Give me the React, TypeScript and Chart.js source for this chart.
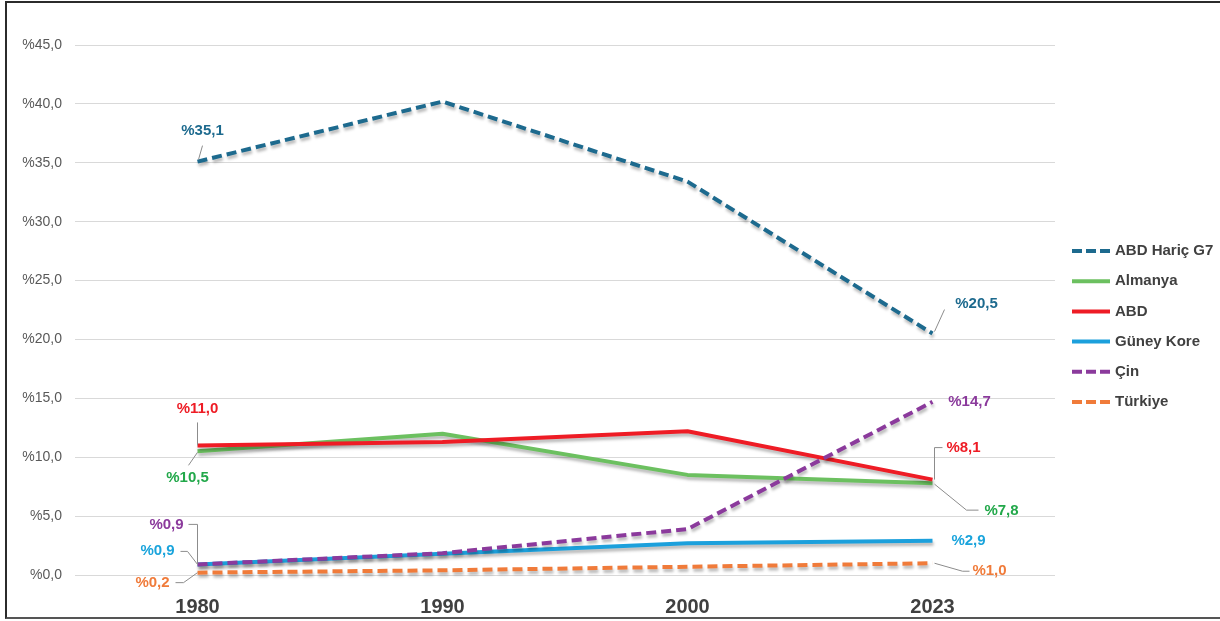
import React, { useEffect, useRef } from "react";
import { Chart, registerables } from "chart.js";

Chart.register(...registerables);

const categories = ["1980", "1990", "2000", "2023"];
const seriesNames = ["ABD Hariç G7", "Almanya", "ABD", "Güney Kore", "Çin", "Türkiye"];
const g7Values = [35.1, 40.2, 33.4, 20.5];
const almanyaValues = [10.5, 12.0, 8.5, 7.8];
const abdValues = [11.0, 11.3, 12.2, 8.1];
const koreValues = [0.9, 1.8, 2.7, 2.9];
const cinValues = [0.9, 1.85, 3.9, 14.7];
const turkiyeValues = [0.2, 0.4, 0.7, 1.0];
const yTicks = [0, 5, 10, 15, 20, 25, 30, 35, 40, 45];

const lineColors = ["#1d6a8e", "#6cc060", "#ee1c25", "#1ca0dc", "#8b3a9c", "#f07b3a"];
const labelColors = ["#1d6a8e", "#22a84a", "#ee1c25", "#1aa4dc", "#8b3a9c", "#f07b3a"];
const dashed = [true, false, false, false, true, true];

// label placement (pixels relative to point) and leader line paths
const labelSpecs = [
  { ds: 0, i: 0, dx: 5, dy: -31, leader: [[1, -2], [5, -16]] },
  { ds: 0, i: 3, dx: 44, dy: -30, leader: [[2, -2], [12, -24]] },
  { ds: 1, i: 0, dx: -10, dy: 27, leader: [[0, 1], [-9, 14]] },
  { ds: 1, i: 3, dx: 69, dy: 28, leader: [[2, 1], [34, 27], [46, 27]] },
  { ds: 2, i: 0, dx: 0, dy: -37, leader: [[0, 0], [0, -23]] },
  { ds: 2, i: 3, dx: 31, dy: -32, leader: [[2, 0], [2, -32], [10, -32]] },
  { ds: 3, i: 0, dx: -40, dy: -14, leader: [[0, 0], [-10, -13], [-17, -13]] },
  { ds: 3, i: 3, dx: 36, dy: 0, leader: null },
  { ds: 4, i: 0, dx: -31, dy: -40, leader: [[0, 0], [0, -40], [-9, -40]] },
  { ds: 4, i: 3, dx: 37, dy: 0, leader: null },
  { ds: 5, i: 0, dx: -45, dy: 10, leader: [[0, 0], [-14, 10], [-22, 10]] },
  { ds: 5, i: 3, dx: 57, dy: 8, leader: [[2, 0], [30, 8], [37, 8]] },
];

const fmt = (v: number) => "%" + v.toFixed(1).replace(".", ",");

const shadowPlugin = {
  id: "lineShadow",
  beforeDatasetDraw(chart: any) {
    const ctx = chart.ctx;
    ctx.save();
    ctx.shadowColor = "rgba(0,0,0,0.28)";
    ctx.shadowBlur = 3;
    ctx.shadowOffsetX = 1;
    ctx.shadowOffsetY = 3;
  },
  afterDatasetDraw(chart: any) {
    chart.ctx.restore();
  },
};

const labelPlugin = {
  id: "pointLabels",
  afterDatasetsDraw(chart: any) {
    const ctx = chart.ctx;
    ctx.save();
    labelSpecs.forEach((s) => {
      const meta = chart.getDatasetMeta(s.ds);
      const pt = meta.data[s.i];
      if (!pt) return;
      const x = pt.x;
      const y = pt.y;
      if (s.leader) {
        ctx.strokeStyle = "#8c8c8c";
        ctx.lineWidth = 1;
        ctx.setLineDash([]);
        ctx.beginPath();
        s.leader.forEach((p: number[], k: number) => {
          if (k === 0) ctx.moveTo(x + p[0], y + p[1]);
          else ctx.lineTo(x + p[0], y + p[1]);
        });
        ctx.stroke();
      }
      const v = chart.data.datasets[s.ds].data[s.i];
      ctx.fillStyle = labelColors[s.ds];
      ctx.font = "bold 15px 'Liberation Sans', Arial, sans-serif";
      ctx.textAlign = "center";
      ctx.textBaseline = "middle";
      ctx.fillText(fmt(v), x + s.dx, y + s.dy);
    });
    ctx.restore();
  },
};

const legendPlugin = {
  id: "customLegend",
  afterDraw(chart: any) {
    const ctx = chart.ctx;
    ctx.save();
    const x0 = 1072;
    const x1 = 1110;
    const yStart = 251;
    const step = 30.2;
    chart.data.datasets.forEach((ds: any, k: number) => {
      const y = yStart + k * step;
      ctx.strokeStyle = ds.borderColor;
      ctx.lineWidth = 4;
      ctx.lineCap = "butt";
      ctx.setLineDash(dashed[k] ? [10, 4] : []);
      ctx.beginPath();
      ctx.moveTo(x0, y);
      ctx.lineTo(x1, y);
      ctx.stroke();
      ctx.setLineDash([]);
      ctx.fillStyle = "#404040";
      ctx.font = "bold 15px 'Liberation Sans', Arial, sans-serif";
      ctx.textAlign = "left";
      ctx.textBaseline = "middle";
      ctx.fillText(ds.label, 1115, y);
    });
    ctx.restore();
  },
};

export default function App() {
  const ref = useRef<HTMLCanvasElement | null>(null);

  useEffect(() => {
    if (!ref.current) return;
    const allValues = [g7Values, almanyaValues, abdValues, koreValues, cinValues, turkiyeValues];
    const chart = new Chart(ref.current, {
      type: "line",
      data: {
        labels: categories,
        datasets: allValues.map((vals, k) => ({
          label: seriesNames[k],
          data: vals,
          borderColor: lineColors[k],
          backgroundColor: lineColors[k],
          borderWidth: 4,
          borderDash: dashed[k] ? [10, 5] : [],
          borderCapStyle: "butt",
          borderJoinStyle: "round",
          pointRadius: 0,
          pointHoverRadius: 0,
          tension: 0,
          fill: false,
          order: 6 - k,
          clip: false,
        })) as any,
      },
      options: {
        responsive: false,
        animation: false,
        events: [],
        layout: { padding: { top: 45, right: 165, bottom: 0, left: 0 } },
        plugins: {
          legend: { display: false },
          tooltip: { enabled: false },
          title: { display: false },
        },
        scales: {
          x: {
            type: "category",
            offset: true,
            grid: { display: false, drawTicks: false },
            border: { display: false },
            ticks: {
              color: "#404040",
              font: { family: "'Liberation Sans', Arial, sans-serif", size: 20, weight: "bold" },
              padding: 20,
            },
            afterFit: (s: any) => {
              s.height = 46;
            },
          },
          y: {
            min: 0,
            max: 45,
            afterBuildTicks: (s: any) => {
              s.ticks = yTicks.map((v) => ({ value: v }));
            },
            grid: { color: "#d9d9d9", lineWidth: 1, drawTicks: false },
            border: { display: false },
            ticks: {
              color: "#595959",
              font: { family: "'Liberation Sans', Arial, sans-serif", size: 14 },
              padding: 13,
              callback: (v: any) => fmt(Number(v)),
            },
            afterFit: (s: any) => {
              s.width = 75;
            },
          },
        },
      } as any,
      plugins: [shadowPlugin, labelPlugin, legendPlugin],
    });
    return () => chart.destroy();
  }, []);

  return (
    <div
      style={{
        position: "absolute",
        left: 0,
        top: 0,
        width: 1220,
        height: 621,
        background: "#ffffff",
        overflow: "hidden",
      }}
    >
      <canvas ref={ref} width={1220} height={621} style={{ position: "absolute", left: 0, top: 0 }} />
      <div
        style={{
          position: "absolute",
          left: 5,
          top: 1,
          width: 1230,
          height: 614,
          borderLeft: "2px solid #2b2b2b",
          borderTop: "2px solid #2b2b2b",
          borderBottom: "2px solid #555555",
          pointerEvents: "none",
        }}
      />
    </div>
  );
}
